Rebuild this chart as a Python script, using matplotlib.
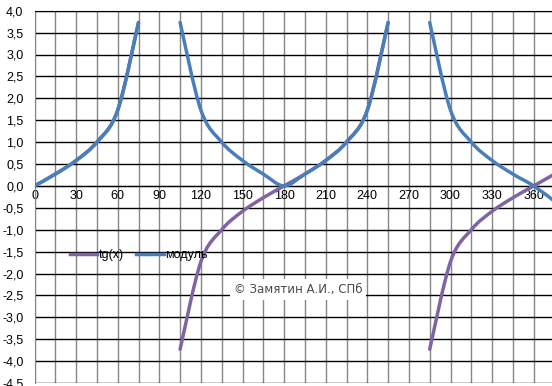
import numpy as np
import matplotlib
matplotlib.use("Agg")
import matplotlib.pyplot as plt
from matplotlib.path import Path
from matplotlib.patches import PathPatch
from matplotlib.lines import Line2D
from matplotlib.ticker import MultipleLocator, FuncFormatter

plt.rcParams['font.family'] = ['Liberation Sans', 'DejaVu Sans']

# degrees, step 15 (no point at 90 and 270)
x = [0, 15, 30, 45, 60, 75, 90, 105, 120, 135, 150, 165, 180,
     195, 210, 225, 240, 255, 270, 285, 300, 315, 330, 345, 360, 375]
nan = np.nan
tg = [0, 0.27, 0.58, 1.0, 1.73, 3.73, nan, -3.73, -1.73, -1.0, -0.58, -0.27, 0,
      0.27, 0.58, 1.0, 1.73, 3.73, nan, -3.73, -1.73, -1.0, -0.58, -0.27, 0, 0.27]
modul = [0, 0.27, 0.58, 1.0, 1.73, 3.73, nan, 3.73, 1.73, 1.0, 0.58, 0.27, 0,
         0.27, 0.58, 1.0, 1.73, 3.73, nan, 3.73, 1.73, 1.0, 0.58, 0.27, 0, -0.35]


def smooth_line(ax, xs, ys, color, z):
    # excel-like smoothed line: bezier through the points, split at gaps
    xs = np.asarray(xs, float)
    ys = np.asarray(ys, float)
    ok = ~np.isnan(ys)
    groups, cur = [], []
    for i in range(len(xs)):
        if ok[i]:
            cur.append((xs[i], ys[i]))
        elif cur:
            groups.append(cur)
            cur = []
    if cur:
        groups.append(cur)
    for g in groups:
        p = np.array(g)
        verts = [p[0]]
        codes = [Path.MOVETO]
        for i in range(len(p) - 1):
            p0 = p[i - 1] if i > 0 else p[i]
            p1, p2 = p[i], p[i + 1]
            p3 = p[i + 2] if i + 2 < len(p) else p2
            verts += [p1 + (p2 - p0) / 6, p2 - (p3 - p1) / 6, p2]
            codes += [Path.CURVE4] * 3
        ax.add_patch(PathPatch(Path(verts, codes), fill=False, edgecolor=color,
                               lw=2.5, capstyle='round', joinstyle='round', zorder=z))


fig = plt.figure(figsize=(5.52, 3.86), dpi=100)
ax = fig.add_axes([34.5 / 552, 3 / 386, 520 / 552, 372.3 / 386])

c_tg = "#8064A2"
c_mod = "#4A7EBB"
smooth_line(ax, x, tg, c_tg, 3)
smooth_line(ax, x, modul, c_mod, 4)

ax.set_xlim(0, 375)
ax.set_ylim(-4.5, 4.0)
ax.xaxis.set_major_locator(MultipleLocator(30))
ax.xaxis.set_minor_locator(MultipleLocator(15))
ax.yaxis.set_major_locator(MultipleLocator(0.5))
ax.yaxis.set_major_formatter(FuncFormatter(lambda v, p: f"{v:.1f}".replace('.', ',')))

ax.grid(True, axis='y', color='black', lw=1.0)
ax.grid(True, axis='x', which='both', color='#868686', lw=1.0)
ax.set_axisbelow(True)

ax.spines['bottom'].set_position(('data', 0))
ax.spines['bottom'].set_color('black')
ax.spines['left'].set_color('#868686')
ax.spines['top'].set_color('black')
ax.spines['right'].set_visible(False)
ax.tick_params(axis='both', which='both', length=0, labelsize=9)
ax.tick_params(axis='x', pad=3)
ax.tick_params(axis='y', pad=8)

handles = [Line2D([], [], color=c_tg, lw=2.5), Line2D([], [], color=c_mod, lw=2.5)]
ax.legend(handles, ["tg(x)", "модуль"], loc='center left',
          bbox_to_anchor=(0.068, 0.344), ncol=2, frameon=False,
          fontsize=9, handlelength=2.2, handletextpad=0.1, columnspacing=1.0,
          borderpad=0, borderaxespad=0)

ax.text(190, -2.37, "© Замятин А.И., СПб", fontsize=8.5, color='#4a4a4a',
        ha='center', va='center', family='DejaVu Sans', zorder=5,
        bbox=dict(facecolor='white', edgecolor='none', pad=3))

plt.savefig("out.png", dpi=100)
